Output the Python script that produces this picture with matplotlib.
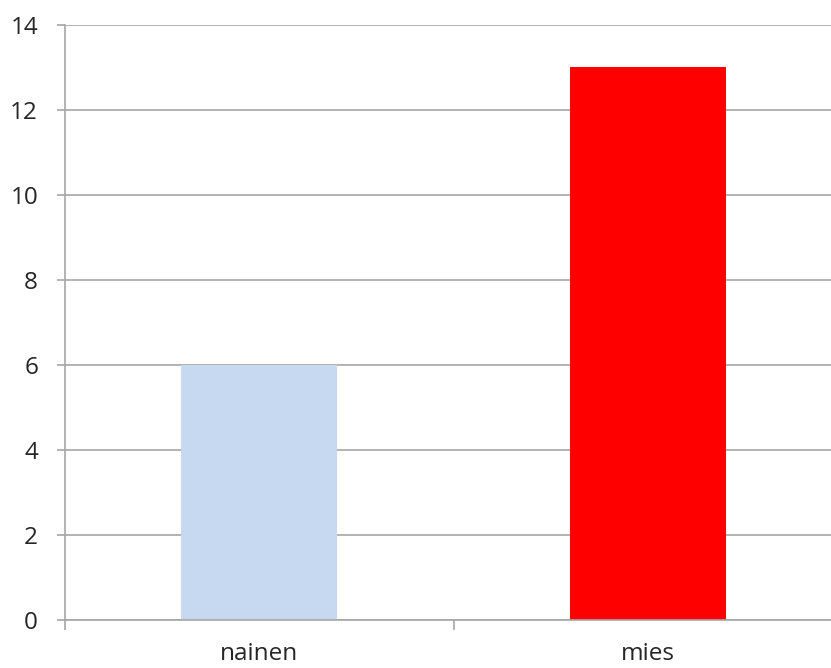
import matplotlib
matplotlib.use("Agg")
import matplotlib.pyplot as plt

categories = ["nainen", "mies"]
values = [6, 13]
colors = ["#c6d9f0", "#ff0000"]
y_ticks = [0, 2, 4, 6, 8, 10, 12, 14]

W, H = 831, 668
fig = plt.figure(figsize=(W / 100, H / 100), dpi=100)
fig.patch.set_facecolor("white")

left, right = 64.5, 842.5
bottom, top = 620.0, 24.5
ax = fig.add_axes([left / W, (H - bottom) / H, (right - left) / W, (bottom - top) / H])

x = [0.5, 1.5]
ax.bar(x, values, width=0.4, color=colors, zorder=2)

ax.set_xlim(0, 2)
ax.set_ylim(0, 14)
ax.set_yticks(y_ticks)
ax.set_yticklabels([str(v) for v in y_ticks])

grid_color = "#a6a6a6"
ax.yaxis.grid(True, color=grid_color, linewidth=1.2, zorder=1)
ax.set_axisbelow(True)

for s in ["top", "right"]:
    ax.spines[s].set_visible(False)
ax.spines["left"].set_color(grid_color)
ax.spines["bottom"].set_color(grid_color)
ax.spines["left"].set_linewidth(1.2)
ax.spines["bottom"].set_linewidth(1.2)

# category boundary ticks on x, labels centred under bars
ax.set_xticks([0, 1, 2])
ax.set_xticklabels([])
ax.set_xticks(x, minor=True)
ax.set_xticklabels(categories, minor=True)
ax.tick_params(axis="x", which="major", length=7.5, width=1.2, color=grid_color)
ax.tick_params(axis="x", which="minor", length=0, pad=16, labelsize=17.5, labelcolor="#262626")
ax.tick_params(axis="y", length=6, width=1.2, color=grid_color, pad=13, labelsize=17.5, labelcolor="#262626")

for lab in ax.get_xticklabels(minor=True) + ax.get_yticklabels():
    lab.set_fontfamily("Open Sans")

fig.savefig("out.png", dpi=100, facecolor="white")
